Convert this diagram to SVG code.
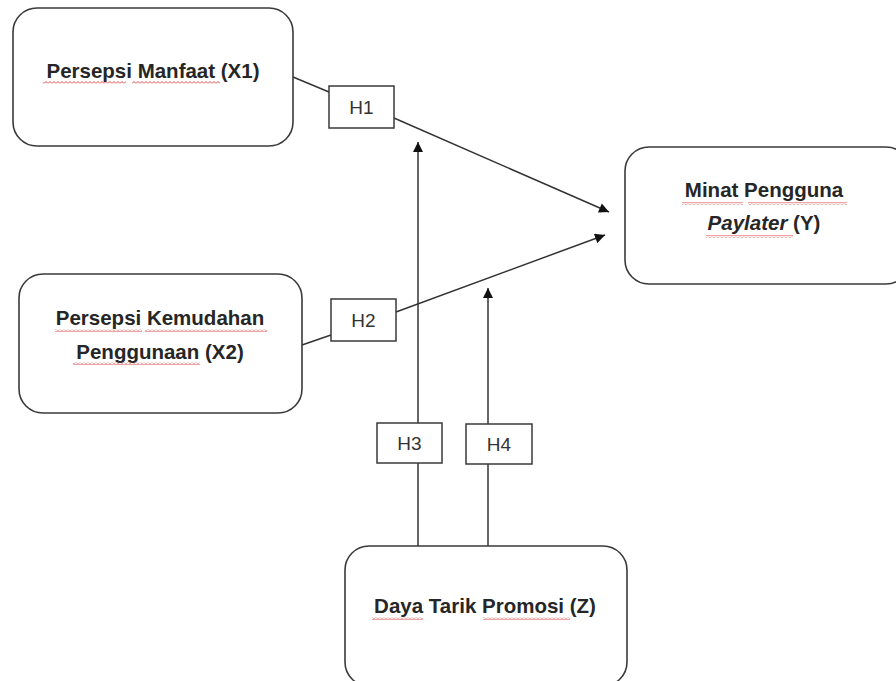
<svg xmlns="http://www.w3.org/2000/svg" width="896" height="681" viewBox="0 0 896 681">
<defs>
<style>
.node{fill:#fff;stroke:#3a3a3a;stroke-width:1.6}
.hbox{fill:#fff;stroke:#3a3a3a;stroke-width:1.5}
.lbl{font-family:"Liberation Sans",Arial,sans-serif;font-weight:bold;font-size:20.5px;fill:#262626;text-anchor:middle}
.h{font-family:"Liberation Sans",Arial,sans-serif;font-size:19px;fill:#333;text-anchor:middle}
.ln{fill:none;stroke:#333;stroke-width:1.5}
.sq{fill:url(#wave)}
</style>
<pattern id="wave" width="4" height="3" patternUnits="userSpaceOnUse">
<path d="M0 2.5 L2 0.5 L4 2.5" fill="none" stroke="#e03030" stroke-width="0.9"/>
</pattern>
<marker id="arr" viewBox="0 0 10 10" refX="10" refY="5" markerWidth="11" markerHeight="10" markerUnits="userSpaceOnUse" orient="auto">
<path d="M0 0 L10 5 L0 10 z" fill="#111"/>
</marker>
</defs>
<rect width="896" height="681" fill="#fff"/>
<g id="connectors">
<line class="ln" x1="293" y1="77" x2="329" y2="92"/>
<line class="ln" x1="394" y1="118" x2="609" y2="212" marker-end="url(#arr)"/>
<line class="ln" x1="302" y1="345" x2="331" y2="335"/>
<line class="ln" x1="396" y1="312" x2="605" y2="235" marker-end="url(#arr)"/>
<line class="ln" x1="418" y1="546" x2="418" y2="142" marker-end="url(#arr)"/>
<line class="ln" x1="488" y1="546" x2="488" y2="288" marker-end="url(#arr)"/>
</g>
<g id="X1">
<rect class="node" x="13" y="8" width="280" height="138" rx="24"/>
<text class="lbl" x="153" y="78">Persepsi Manfaat (X1)</text>
<rect class="sq" x="43" y="81" width="83" height="3"/>
<rect class="sq" x="132" y="81" width="88" height="3"/>
</g>
<g id="X2">
<rect class="node" x="19" y="274" width="283" height="139" rx="24"/>
<text class="lbl" x="160" y="325">Persepsi Kemudahan</text>
<text class="lbl" x="160" y="359">Penggunaan (X2)</text>
<rect class="sq" x="55" y="329" width="87" height="3"/>
<rect class="sq" x="145" y="329" width="122" height="3"/>
<rect class="sq" x="73" y="362" width="127" height="3"/>
</g>
<g id="Y">
<rect class="node" x="625" y="147" width="285" height="137" rx="24"/>
<text class="lbl" x="764" y="197">Minat Pengguna</text>
<text class="lbl" x="764" y="230"><tspan font-style="italic">Paylater</tspan> (Y)</text>
<rect class="sq" x="682" y="202" width="61" height="3"/>
<rect class="sq" x="748" y="202" width="99" height="3"/>
<rect class="sq" x="706" y="235" width="87" height="3"/>
</g>
<g id="Z">
<rect class="node" x="345" y="546" width="282" height="140" rx="24"/>
<text class="lbl" x="485" y="613">Daya Tarik Promosi (Z)</text>
<rect class="sq" x="372" y="617" width="51" height="3"/>
<rect class="sq" x="483" y="617" width="87" height="3"/>
</g>
<g id="H1">
<rect class="hbox" x="329" y="86" width="65" height="42"/>
<text class="h" x="361.5" y="114">H1</text>
</g>
<g id="H2">
<rect class="hbox" x="331" y="299" width="65" height="42"/>
<text class="h" x="363.5" y="327">H2</text>
</g>
<g id="H3">
<rect class="hbox" x="377" y="423" width="65" height="40"/>
<text class="h" x="409.5" y="450">H3</text>
</g>
<g id="H4">
<rect class="hbox" x="466" y="424" width="66" height="40"/>
<text class="h" x="499" y="451">H4</text>
</g>
</svg>
